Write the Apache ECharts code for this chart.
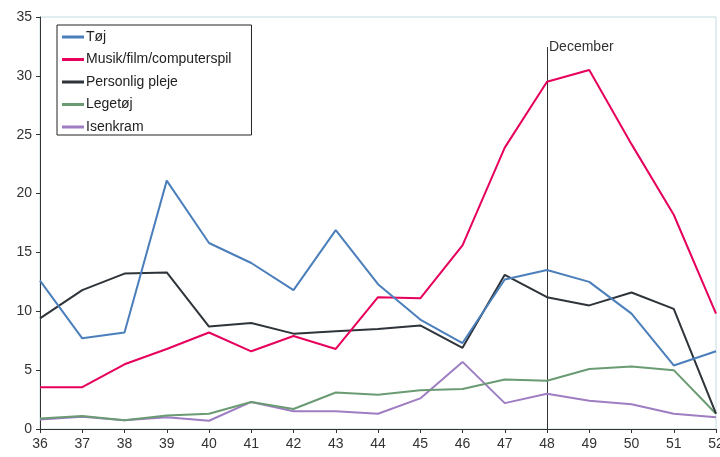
<!DOCTYPE html>
<html lang="da">
<head>
    <meta charset="UTF-8">
    <title>Uger</title>
    <script src="https://cdn.jsdelivr.net/npm/echarts@6/dist/echarts.min.js"></script>
</head>
<body style="margin:0;background:#fff;">
<div id="main" style="width:720px;height:457px;"></div>

<script type="text/javascript">
    var weeks = ['36', '37', '38', '39', '40', '41', '42', '43', '44', '45', '46', '47', '48', '49', '50', '51', '52'];
    var toj = [12.6, 7.7, 8.2, 21.1, 15.8, 14.1, 11.8, 16.9, 12.3, 9.3, 7.3, 12.7, 13.5, 12.5, 9.8, 5.4, 6.6];
    var musik = [3.55, 3.55, 5.5, 6.8, 8.2, 6.6, 7.9, 6.8, 11.2, 11.1, 15.6, 23.9, 29.5, 30.5, 24.2, 18.2, 9.8];
    var pleje = [9.4, 11.8, 13.2, 13.3, 8.7, 9.0, 8.1, 8.3, 8.5, 8.8, 6.9, 13.1, 11.2, 10.5, 11.6, 10.2, 1.3];
    var legetoj = [0.9, 1.1, 0.75, 1.15, 1.3, 2.3, 1.7, 3.1, 2.9, 3.3, 3.4, 4.2, 4.1, 5.1, 5.3, 5.0, 1.3];
    var isenkram = [0.8, 1.05, 0.75, 1.0, 0.7, 2.3, 1.5, 1.5, 1.3, 2.6, 5.7, 2.2, 3.0, 2.4, 2.1, 1.3, 1.0];
    var yTicks = [0, 5, 10, 15, 20, 25, 30, 35];

    var names = ['Tøj', 'Musik/film/computerspil', 'Personlig pleje', 'Legetøj', 'Isenkram'];
    var values = [toj, musik, pleje, legetoj, isenkram];
    var colors = ['#4b7fbb', '#e6005c', '#2e3439', '#6a9b72', '#9e7dc2'];

    var myChart = echarts.init(document.getElementById('main'));

    var seriesArr = [];
    names.forEach(function (name, i) {
        seriesArr.push({
            name: name,
            type: 'line',
            data: values[i],
            symbol: 'none',
            color: colors[i],
            lineStyle: {width: 2, color: colors[i]},
            z: 10 - i
        });
    });

    // december marker
    seriesArr[0].markLine = {
        silent: true,
        symbol: 'none',
        lineStyle: {color: '#333', width: 1, type: 'solid'},
        label: {show: false},
        data: [[{coord: ['48', 0]}, {coord: ['48', 32.45]}]]
    };
    seriesArr[0].markPoint = {
        silent: true,
        symbolSize: 0,
        label: {
            show: true,
            position: 'right',
            distance: 2,
            formatter: 'December',
            color: '#333',
            fontSize: 14,
            fontFamily: 'Liberation Sans'
        },
        data: [{coord: ['48', 32.45], value: 0}]
    };

    var option = {
        backgroundColor: '#fff',
        animation: false,
        textStyle: {fontFamily: 'Liberation Sans'},
        grid: {
            left: 40, right: 4, top: 17, bottom: 28,
            outerBoundsMode: 'none',
            containLabel: false,
            show: true, borderColor: '#c6dce2', borderWidth: 1
        },
        legend: {
            orient: 'vertical',
            left: 57,
            top: 25,
            data: names,
            icon: 'path://M0,0h0.01v14h-0.01z M0,5.5h22v3h-22z',
            itemWidth: 22,
            itemHeight: 14,
            itemGap: 8.5,
            padding: [5, 20, 1, 5],
            borderColor: '#222',
            borderWidth: 1,
            backgroundColor: '#fff',
            textStyle: {color: '#222', fontSize: 14, padding: [0, 0, 0, -3]}
        },
        xAxis: {
            type: 'category',
            data: weeks,
            boundaryGap: false,
            axisLine: {lineStyle: {color: '#333'}},
            axisTick: {length: 4, lineStyle: {color: '#333'}},
            axisLabel: {color: '#333', fontSize: 14, margin: 8}
        },
        yAxis: {
            type: 'value',
            min: yTicks[0],
            max: yTicks[yTicks.length - 1],
            interval: 5,
            splitLine: {show: false},
            axisLine: {show: true, lineStyle: {color: '#333'}},
            axisTick: {show: true, length: 4, lineStyle: {color: '#333'}},
            axisLabel: {color: '#333', fontSize: 14, margin: 8}
        },
        series: seriesArr
    };
    myChart.setOption(option);
</script>
</body>
</html>
